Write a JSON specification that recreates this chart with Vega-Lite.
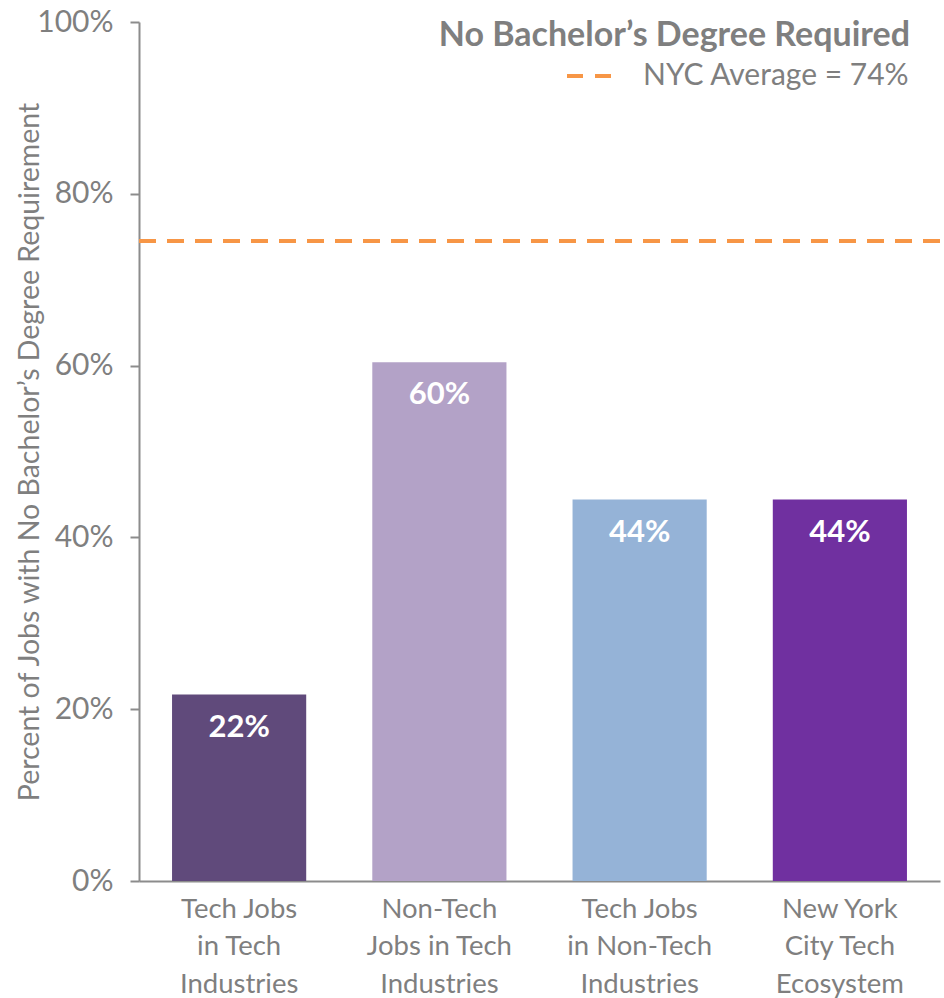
{
  "$schema": "https://vega.github.io/schema/vega-lite/v6.json",
  "width": 801,
  "height": 859,
  "autosize": {"type": "none"},
  "padding": {"left": 139, "top": 22, "right": 4, "bottom": 117},
  "config": {"font": "Lato", "view": {"stroke": null}},
  "title": {
    "text": "No Bachelor’s Degree Required",
    "anchor": "end",
    "frame": "group",
    "fontSize": 34,
    "fontWeight": "bold",
    "color": "#7f7f7f",
    "offset": -46,
    "dx": -30
  },
  "data": {
    "values": [
      {"category": "Tech Jobs\nin Tech\nIndustries", "value": 0.217},
      {"category": "Non-Tech\nJobs in Tech\nIndustries", "value": 0.604},
      {"category": "Tech Jobs\nin Non-Tech\nIndustries", "value": 0.444},
      {"category": "New York\nCity Tech\nEcosystem", "value": 0.444}
    ]
  },
  "layer": [
    {
      "mark": {"type": "bar"},
      "encoding": {
        "x": {
          "field": "category",
          "type": "nominal",
          "sort": null,
          "scale": {"paddingInner": 0.33, "paddingOuter": 0.165},
          "axis": {
            "title": null,
            "labelAngle": 0,
            "ticks": false,
            "labelExpr": "split(datum.label, '\\n')",
            "labelFontSize": 27.5,
            "labelColor": "#7f7f7f",
            "labelPadding": 14,
            "labelLineHeight": 37.5,
            "labelBaseline": "top",
            "labelLimit": 0,
            "domainColor": "#8c8c8c",
            "domainWidth": 2
          }
        },
        "y": {
          "field": "value",
          "type": "quantitative",
          "scale": {"domain": [0, 1]},
          "axis": {
            "values": [0, 0.2, 0.4, 0.6, 0.8, 1],
            "format": ".0%",
            "grid": false,
            "title": "Percent of Jobs with No Bachelor’s Degree Requirement",
            "titleFontSize": 28.5,
            "titleFontWeight": "normal",
            "titleColor": "#7f7f7f",
            "titlePadding": -8,
            "labelFontSize": 30,
            "labelColor": "#7f7f7f",
            "labelPadding": 17,
            "tickSize": 9,
            "tickColor": "#8c8c8c",
            "tickWidth": 2,
            "domainColor": "#8c8c8c",
            "domainWidth": 2
          }
        },
        "color": {
          "field": "category",
          "type": "nominal",
          "sort": null,
          "scale": {"range": ["#604a7b", "#b3a2c7", "#95b3d7", "#7030a0"]},
          "legend": null
        }
      }
    },
    {
      "mark": {"type": "text", "baseline": "alphabetic", "dy": 42, "color": "white", "fontSize": 31, "fontWeight": "bold"},
      "encoding": {
        "x": {"field": "category", "type": "nominal", "sort": null},
        "y": {"field": "value", "type": "quantitative"},
        "text": {"field": "value", "type": "quantitative", "format": ".0%"}
      }
    },
    {
      "data": {"values": [{"label": "NYC Average = 74%", "value": 0.745}]},
      "mark": {"type": "rule", "strokeDash": [17, 11], "strokeWidth": 4},
      "encoding": {
        "y": {"field": "value", "type": "quantitative"},
        "stroke": {
          "field": "label",
          "type": "nominal",
          "scale": {"range": ["#f79646"]},
          "legend": {
            "title": null,
            "orient": "top-right",
            "offset": 30,
            "padding": 0,
            "symbolType": "stroke",
            "symbolSize": 1936,
            "symbolStrokeWidth": 4,
            "symbolDash": [16, 12],
            "labelFontSize": 30,
            "labelColor": "#7f7f7f",
            "labelOffset": 30,
            "labelLimit": 0
          }
        }
      }
    }
  ]
}
